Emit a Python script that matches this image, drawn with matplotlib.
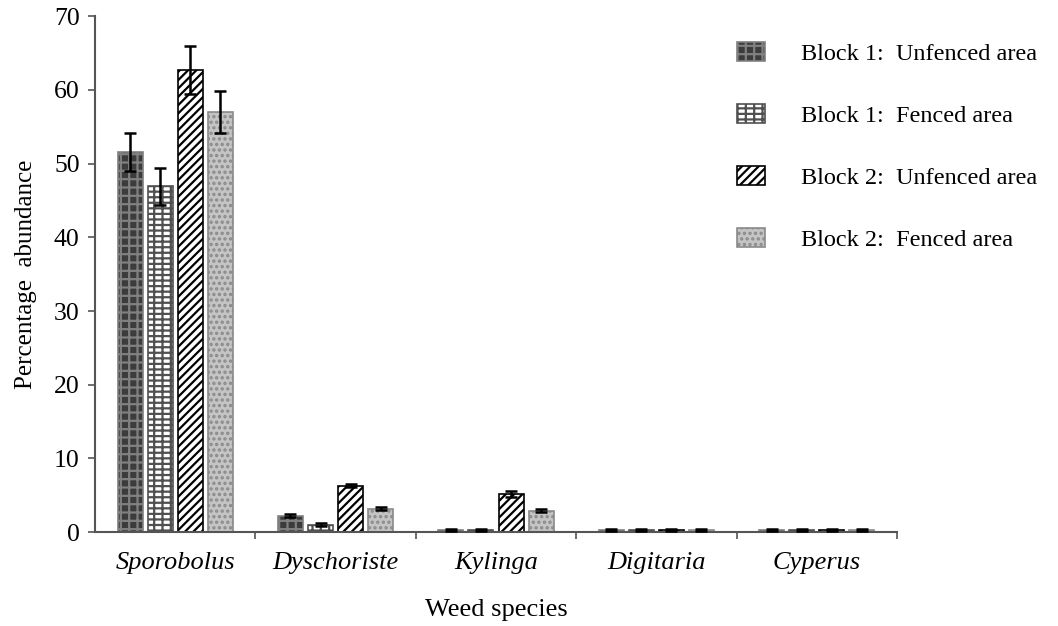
import numpy as np
import matplotlib.pyplot as plt

plt.rcParams['font.family'] = ['Liberation Serif', 'DejaVu Serif']
plt.rcParams['hatch.linewidth'] = 1.6

# datos
especies = ['Sporobolus', 'Dyschoriste', 'Kylinga', 'Digitaria', 'Cyperus']
series = ['Block 1:  Unfenced area', 'Block 1:  Fenced area',
          'Block 2:  Unfenced area', 'Block 2:  Fenced area']
b1_sin_cerca = [51.6, 2.2, 0.3, 0.3, 0.3]
b1_cerca = [46.9, 1.0, 0.3, 0.3, 0.3]
b2_sin_cerca = [62.7, 6.3, 5.2, 0.3, 0.3]
b2_cerca = [57.0, 3.2, 2.9, 0.3, 0.3]
err_b1_sin = [2.6, 0.2, 0.1, 0.1, 0.1]
err_b1_cer = [2.5, 0.2, 0.1, 0.1, 0.1]
err_b2_sin = [3.2, 0.2, 0.4, 0.1, 0.1]
err_b2_cer = [2.8, 0.2, 0.2, 0.1, 0.1]

valores = [b1_sin_cerca, b1_cerca, b2_sin_cerca, b2_cerca]
errores = [err_b1_sin, err_b1_cer, err_b2_sin, err_b2_cer]

# estilos de relleno (escala de grises como el original)
caras = ['#3c3c3c', 'white', 'white', '#c4c4c4']
bordes = ['#808080', '#505050', 'black', '#8a8a8a']
tramas = ['++', '---||', '////', '...']

fig = plt.figure(figsize=(10.58, 6.26), dpi=100)
ax = fig.add_axes([0.0898, 0.150, 0.758, 0.824])

x = np.arange(len(especies)) + 0.5
ancho = 0.156
paso = 0.1875

for i in range(4):
    pos = x + (i - 1.5) * paso
    ax.bar(pos, valores[i], width=ancho, color=caras[i], edgecolor=bordes[i],
           hatch=tramas[i], linewidth=1.2, label=series[i], zorder=2)
    ax.errorbar(pos, valores[i], yerr=errores[i], fmt='none', ecolor='black',
                elinewidth=1.8, capsize=4, capthick=1.8, zorder=3)

ax.set_xlim(0, 5)
ax.set_ylim(0, 70)
ax.set_yticks(np.arange(0, 71, 10))
ax.set_xticks(np.arange(1, 6))
ax.set_xticklabels([])
ax.set_xticks(x, minor=True)
ax.set_xticklabels(especies, minor=True, fontstyle='italic', fontsize=19)
ax.tick_params(axis='x', which='minor', length=0, pad=14)
ax.tick_params(axis='x', which='major', length=5, width=1.2, color='#555555')
ax.tick_params(axis='y', length=5, width=1.2, color='#555555', labelsize=18.5, pad=6)

for lado in ['top', 'right']:
    ax.spines[lado].set_visible(False)
for lado in ['left', 'bottom']:
    ax.spines[lado].set_color('#555555')
    ax.spines[lado].set_linewidth(1.5)

ax.set_xlabel('Weed species', fontsize=19, labelpad=18)
ax.set_ylabel('Percentage  abundance', fontsize=18, labelpad=12)

ax.legend(loc='upper left', bbox_to_anchor=(0.676, 0.968), bbox_transform=fig.transFigure,
          frameon=False, fontsize=17.5, handlelength=1.15, handleheight=0.8,
          handletextpad=1.5, labelspacing=1.62)

fig.savefig('out.png', dpi=100)
